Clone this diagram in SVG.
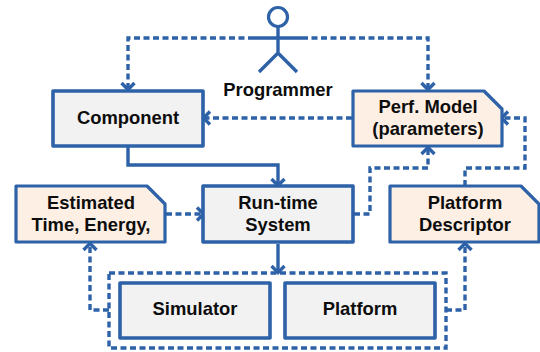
<svg xmlns="http://www.w3.org/2000/svg" width="540" height="352" viewBox="0 0 540 352">
<defs>
<marker id="arr" markerUnits="userSpaceOnUse" markerWidth="20" markerHeight="20" refX="15" refY="10" orient="auto"><path d="M8 3.5 L14.5 10 L8 16.5" fill="none" stroke="#2e62a8" stroke-width="3.4"/></marker>
</defs>
<style>
.box{fill:#f2f2f2;stroke:#2e62a8;stroke-width:3.6;stroke-linejoin:round}
.note{fill:#fdefe4;stroke:#2e62a8;stroke-width:3.2;stroke-linejoin:round}
.d{fill:none;stroke:#2e62a8;stroke-width:3.4;stroke-dasharray:6 3.5}
.s{fill:none;stroke:#2e62a8;stroke-width:3.4}
text{font-family:"Liberation Sans",Arial,sans-serif;font-weight:700;font-size:18.4px;fill:#0d0d0d;text-anchor:middle}
</style>
<g id="connectors">
<path class="d" d="M254 38H128V90" marker-end="url(#arr)"/>
<path class="d" d="M302 38H428V90" marker-end="url(#arr)"/>
<path class="d" d="M352 118H203" marker-end="url(#arr)"/>
<path class="s" d="M128 147V165H278V186" marker-end="url(#arr)"/>
<path class="d" d="M166 214H204" marker-end="url(#arr)"/>
<path class="d" d="M354 214H370V168H428V147" marker-end="url(#arr)"/>
<path class="d" d="M465 186V168H525V118H501" marker-end="url(#arr)"/>
<path class="s" d="M278 244V273" marker-end="url(#arr)"/>
<path class="d" d="M109 310H90V243" marker-end="url(#arr)"/>
<path class="d" d="M446 310H465V243" marker-end="url(#arr)"/>
</g>
<g id="programmer">
<circle cx="278" cy="17" r="9.5" fill="#fff" stroke="#2e62a8" stroke-width="3.2"/>
<path class="s" d="M254 38H302M278 27V53M278 53L259 72M278 53L297 72"/>
<text x="278" y="96">Programmer</text>
</g>
<g id="component"><rect class="box" x="53" y="91" width="150" height="55"/><text x="128" y="124">Component</text></g>
<g id="perf-model"><path class="note" d="M353 91H484L502 109V146H353Z"/><text x="428" y="113">Perf. Model</text><text x="428" y="135">(parameters)</text></g>
<g id="estimated"><path class="note" d="M16 186H147L165 204V242H16Z"/><text x="91" y="209">Estimated</text><text x="91" y="231">Time, Energy,</text></g>
<g id="runtime"><rect class="box" x="203" y="186" width="150" height="56"/><text x="278" y="209">Run-time</text><text x="278" y="231">System</text></g>
<g id="platform-descriptor"><path class="note" d="M390 186H521L539 204V242H390Z"/><text x="465" y="209">Platform</text><text x="465" y="231">Descriptor</text></g>
<g id="group-frame"><rect class="d" x="109" y="273" width="337" height="75"/></g>
<g id="simulator"><rect class="box" x="120" y="283" width="150" height="55"/><text x="195" y="315">Simulator</text></g>
<g id="platform"><rect class="box" x="285" y="283" width="150" height="55"/><text x="360" y="315">Platform</text></g>
</svg>
